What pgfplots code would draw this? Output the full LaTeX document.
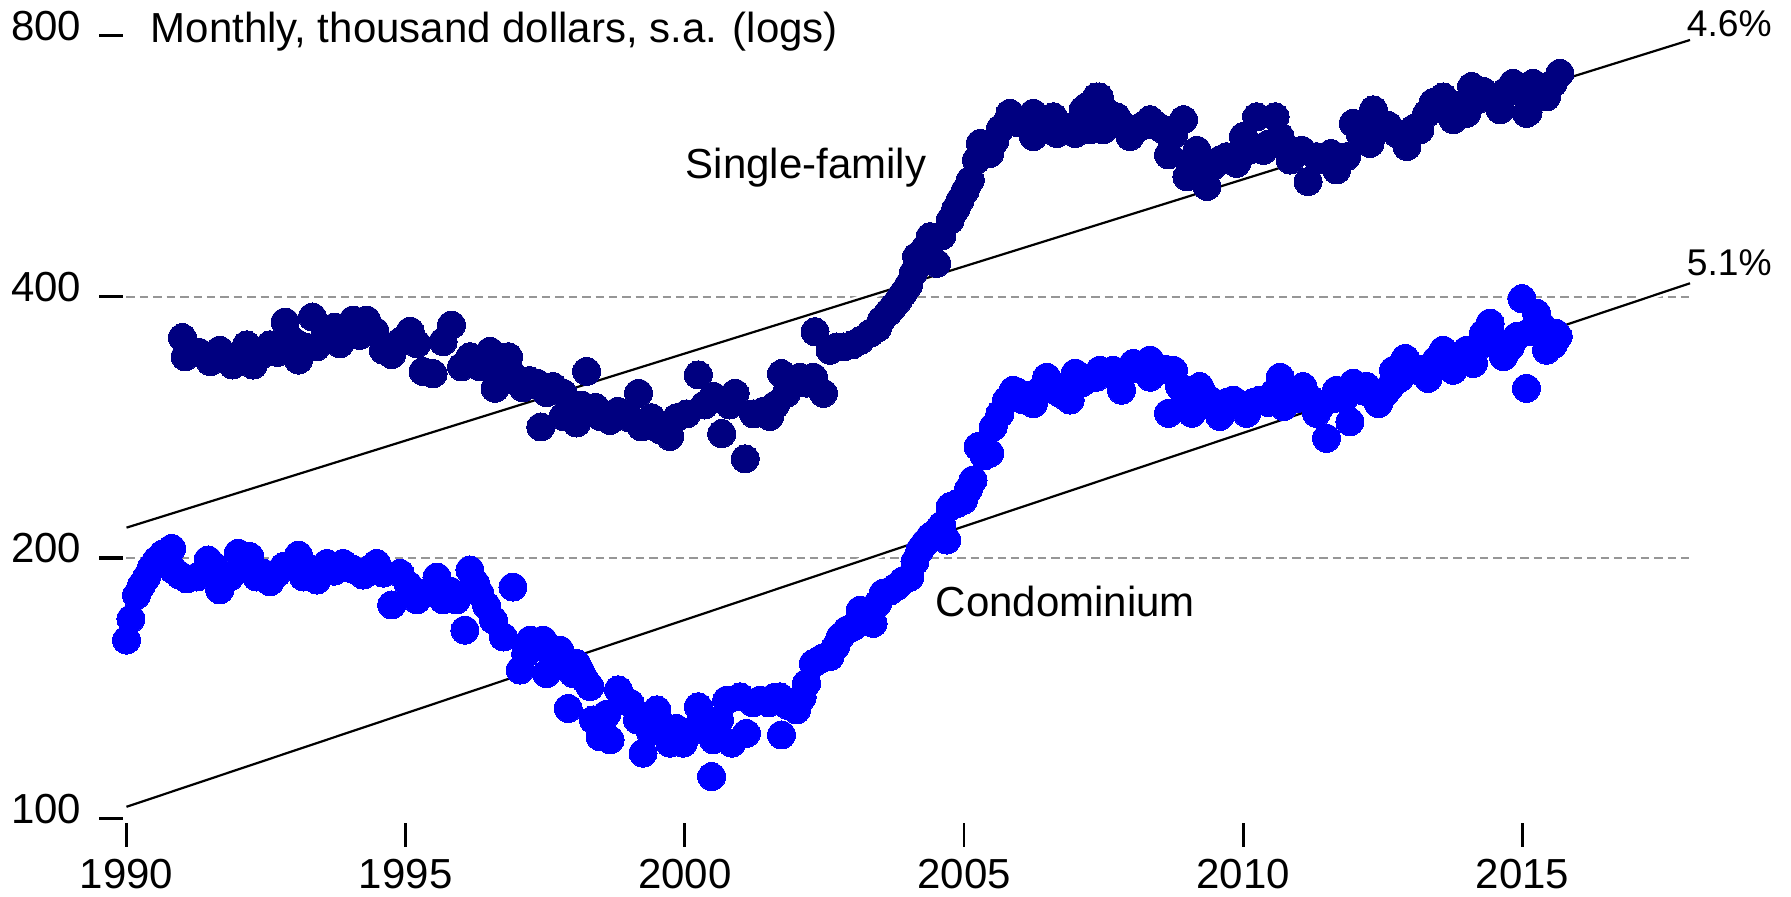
\documentclass[border=0pt]{standalone}
\usepackage{pgfplots}
\pgfplotsset{compat=1.18}
\usepackage{fontspec}
\setmainfont{Liberation Sans}
\definecolor{sfnavy}{RGB}{0,0,128}
\definecolor{condoblue}{RGB}{0,0,255}
\definecolor{gridgray}{RGB}{150,150,150}

\begin{document}
\begin{tikzpicture}[font=\fontsize{10.5}{12.6}\selectfont]
\begin{axis}[
  scale only axis,
  width=390.875pt, height=195.75pt,
  xmin=1990, xmax=2018,
  ymode=log, ymin=100, ymax=800,
  clip=false,
  axis line style={draw=none},
  tick pos=left,
  tick align=outside,
  major tick length=6pt,
  xtick={1990,1995,2000,2005,2010,2015},
  xticklabels={1990,1995,2000,2005,2010,2015},
  ytick={100,200,400,800},
  yticklabels={100,200,400,800},
  minor tick num=0,
  xtick style={draw=black, line width=0.7pt, yshift=-1.075pt},
  ytick style={draw=black, line width=0.9pt, xshift=-0.775pt},
  xticklabel style={anchor=base, inner sep=0pt, yshift=-11.5pt},
  yticklabel style={anchor=base east, inner sep=0pt, xshift=-5.125pt, yshift=-1.25pt},
  /pgf/number format/assume math mode=true,
]
\coordinate (ll) at (axis cs:1990,100);

% dashed reference lines
\draw[gridgray, line width=0.45pt, dash pattern=on 2.1pt off 1.25pt] (axis cs:1990,200) -- (axis cs:2018,200);
\draw[gridgray, line width=0.45pt, dash pattern=on 2.1pt off 1.25pt] (axis cs:1990,400) -- (axis cs:2018,400);

% Single-family
\addplot[sfnavy, only marks, mark=*, mark size=3.5pt, mark options={draw=sfnavy, fill=sfnavy, line width=0pt}] coordinates {
(1991.00,358.7) (1991.05,341) (1991.30,345) (1991.50,336.6) (1991.67,347) (1991.90,333.6)
(1992.15,352) (1992.27,333.6) (1992.40,342) (1992.57,352) (1992.70,345) (1992.84,374)
(1993.00,355) (1993.08,338) (1993.20,350) (1993.33,379) (1993.40,350) (1993.55,360)
(1993.73,369) (1993.82,353) (1994.06,376) (1994.18,361) (1994.30,376) (1994.45,365)
(1994.60,347) (1994.75,343) (1994.90,355) (1995.08,365) (1995.20,353) (1995.31,328)
(1995.49,326) (1995.67,355) (1995.82,371) (1996.00,332) (1996.15,341) (1996.33,332)
(1996.51,346) (1996.60,313.6) (1996.72,335) (1996.84,341) (1996.90,326) (1997.10,314)
(1997.22,320) (1997.35,318) (1997.42,283) (1997.52,310) (1997.64,315) (1997.82,309.5)
(1997.82,291) (1997.95,300) (1998.06,286) (1998.15,300) (1998.24,328) (1998.27,295)
(1998.40,298) (1998.48,291) (1998.66,288) (1998.80,295) (1999.00,290) (1999.17,309.5)
(1999.22,283) (1999.40,290) (1999.55,281) (1999.73,276) (1999.85,290) (2000.03,293)
(2000.24,325) (2000.35,300) (2000.51,307) (2000.66,278) (2000.80,300) (2000.90,309.5)
(2001.08,260) (2001.23,293) (2001.40,295) (2001.52,291) (2001.62,300) (2001.73,326)
(2001.82,309.5) (2001.95,318) (2002.06,323) (2002.18,318) (2002.30,323) (2002.48,309.5)
(2002.33,364.5) (2002.60,347) (2002.72,350) (2002.84,350) (2003.00,352) (2003.14,356)
(2003.32,363) (2003.45,368) (2003.52,376) (2003.65,384) (2003.73,389.5) (2003.82,396)
(2003.91,403.6) (2004.00,412) (2004.09,426) (2004.15,445) (2004.30,455) (2004.39,469)
(2004.51,437) (2004.60,470) (2004.75,490) (2004.85,505) (2004.93,517) (2005.02,530)
(2005.11,545) (2005.22,575) (2005.29,601) (2005.46,585) (2005.55,605) (2005.65,625)
(2005.82,651) (2005.95,635) (2006.10,640) (2006.24,651) (2006.24,612) (2006.40,640)
(2006.50,625) (2006.60,645) (2006.66,617) (2006.78,628) (2006.99,617) (2007.13,657)
(2007.20,663) (2007.26,623) (2007.37,680) (2007.42,680) (2007.49,623) (2007.60,650)
(2007.73,645) (2007.85,630) (2007.97,612) (2008.10,625) (2008.20,630) (2008.33,640)
(2008.45,630) (2008.57,623) (2008.66,583) (2008.75,615) (2008.93,640) (2008.99,550)
(2009.08,575) (2009.17,590) (2009.25,560) (2009.35,536) (2009.45,565) (2009.58,575)
(2009.70,580) (2009.88,570) (2010.00,612) (2010.10,590) (2010.24,645) (2010.36,590)
(2010.45,600) (2010.57,645) (2010.66,612) (2010.75,595) (2010.84,575) (2010.95,585)
(2011.05,590) (2011.16,543) (2011.31,580) (2011.45,575) (2011.57,585) (2011.67,560)
(2011.85,580) (2011.97,634) (2012.10,615) (2012.27,601) (2012.33,657) (2012.45,625)
(2012.60,630) (2012.75,617) (2012.93,596) (2013.05,625) (2013.16,623) (2013.28,650)
(2013.40,670) (2013.50,660) (2013.58,680) (2013.76,640) (2013.88,665) (2014.00,651)
(2014.09,699) (2014.20,675) (2014.30,690) (2014.42,680) (2014.60,657) (2014.70,690)
(2014.83,705) (2014.95,690) (2015.07,651) (2015.10,653) (2015.19,705) (2015.30,695)
(2015.38,684) (2015.43,680) (2015.55,705) (2015.67,724)
};

% Condominium
\addplot[condoblue, only marks, mark=*, mark size=3.5pt, mark options={draw=condoblue, fill=condoblue, line width=0pt}] coordinates {
(1990.00,160.7) (1990.08,170) (1990.18,181) (1990.27,186) (1990.36,190) (1990.45,195)
(1990.54,198.8) (1990.65,202) (1990.81,205) (1990.84,193.6) (1990.95,191) (1991.08,189)
(1991.26,190) (1991.46,198.8) (1991.55,196) (1991.67,183.6) (1991.85,190) (1992.00,202.4)
(1992.10,198) (1992.21,200.6) (1992.33,190) (1992.45,192) (1992.57,187.6) (1992.70,192)
(1992.81,195.3) (1992.95,196) (1993.08,201.4) (1993.17,190) (1993.30,194) (1993.41,188.5)
(1993.59,197) (1993.72,193) (1993.88,197) (1994.05,194) (1994.24,191) (1994.35,194)
(1994.48,197) (1994.60,192) (1994.75,176.4) (1994.90,191.9) (1995.05,186) (1995.20,178.8)
(1995.35,182) (1995.56,190) (1995.67,178.8) (1995.80,183) (1995.91,178.8) (1996.06,165)
(1996.15,193.6) (1996.25,187) (1996.33,182) (1996.45,176) (1996.57,169.5) (1996.75,162)
(1996.92,185) (1997.05,148.4) (1997.15,155) (1997.23,160.7) (1997.35,158) (1997.46,160.7)
(1997.52,147) (1997.65,152) (1997.76,156.5) (1997.91,134) (1998.00,147) (1998.06,151)
(1998.12,148.4) (1998.20,145) (1998.30,142) (1998.36,130) (1998.42,130) (1998.48,124.3)
(1998.60,132) (1998.66,123.3) (1998.81,140.8) (1998.90,137) (1999.02,135.9) (1999.15,130)
(1999.25,119) (1999.38,126) (1999.50,133.5) (1999.62,128) (1999.73,122.2) (1999.85,127)
(1999.97,122.2) (2000.10,126) (2000.24,134.6) (2000.35,128) (2000.48,111.8) (2000.51,123.3)
(2000.62,130) (2000.75,137) (2000.84,122.2) (2000.99,138.2) (2001.10,125.4) (2001.22,136)
(2001.35,137) (2001.50,136) (2001.60,138) (2001.70,138.2) (2001.73,124.9) (2001.85,135)
(2002.00,133.5) (2002.10,138) (2002.18,143.3) (2002.30,151) (2002.45,153) (2002.60,153.8)
(2002.70,158) (2002.78,162) (2002.90,165) (2003.02,166.5) (2003.14,174) (2003.25,172)
(2003.37,168) (2003.45,177) (2003.55,182) (2003.67,183) (2003.79,185.2) (2003.90,188)
(2004.03,190) (2004.12,198) (2004.21,204.2) (2004.30,208) (2004.39,211.4) (2004.50,214)
(2004.60,218) (2004.69,209.6) (2004.75,229) (2004.88,231) (2004.99,233) (2005.08,240)
(2005.16,245.8) (2005.25,268.6) (2005.36,262) (2005.46,264) (2005.52,283) (2005.64,293)
(2005.76,304) (2005.88,312) (2005.97,310) (2006.06,304) (2006.15,308) (2006.24,301)
(2006.36,312) (2006.48,323) (2006.60,315) (2006.70,310) (2006.81,307) (2006.90,304)
(2006.99,326.5) (2007.10,318) (2007.25,322) (2007.37,323) (2007.43,329) (2007.55,327)
(2007.67,329) (2007.82,312) (2007.95,330) (2008.03,335) (2008.15,330) (2008.33,338)
(2008.33,323) (2008.45,328) (2008.60,330) (2008.66,293.5) (2008.75,329) (2008.86,315)
(2008.97,305) (2009.08,293.5) (2009.22,315) (2009.30,308) (2009.40,304) (2009.50,300)
(2009.58,291) (2009.70,302) (2009.82,304) (2009.95,300) (2010.06,293.5) (2010.18,302)
(2010.30,304) (2010.45,302) (2010.55,310) (2010.66,323) (2010.72,298.8) (2010.85,310)
(2010.95,305) (2011.07,315) (2011.20,305) (2011.31,293.5) (2011.40,300) (2011.49,274.6)
(2011.60,305) (2011.67,312) (2011.80,305) (2011.91,287) (2011.97,318) (2012.10,312)
(2012.21,315) (2012.32,308) (2012.42,301) (2012.55,310) (2012.63,315) (2012.69,329)
(2012.80,322) (2012.90,339.6) (2013.00,333) (2013.11,329) (2013.22,330) (2013.31,322)
(2013.45,338) (2013.58,347) (2013.67,342) (2013.76,329) (2013.88,340) (2014.00,347)
(2014.12,335) (2014.20,350) (2014.30,363) (2014.42,373) (2014.55,355) (2014.66,341)
(2014.78,350) (2014.90,360) (2014.99,398) (2015.07,313.6) (2015.15,365) (2015.25,383)
(2015.35,370) (2015.43,347) (2015.55,352) (2015.60,363) (2015.64,360)
};

% Trend lines with white halo
\addplot[white, line width=1.7pt] coordinates {(1990,216.6) (2018,791)};
\addplot[black, line width=0.55pt] coordinates {(1990,216.6) (2018,791)};
\addplot[white, line width=1.7pt] coordinates {(1990,103.2) (2018,414.5)};
\addplot[black, line width=0.55pt] coordinates {(1990,103.2) (2018,414.5)};

% Labels
\node[anchor=base west, inner sep=0pt] at (axis cs:1990.42,786.6) {Monthly, thousand dollars, s.a. (logs)};
\node[anchor=base west, inner sep=0pt] at (axis cs:2000.0,548) {Single-family};
\node[anchor=base west, inner sep=0pt] at (axis cs:2004.48,171.0) {Condominium};
\node[anchor=base west, inner sep=0pt, font=\fontsize{9.3}{11}\selectfont] at (axis cs:2017.93,799) {4.6\%};
\node[anchor=base west, inner sep=0pt, font=\fontsize{9.3}{11}\selectfont] at (axis cs:2017.93,422.6) {5.1\%};
\end{axis}
\pgfresetboundingbox
\path ([shift={(-31.625pt,-19.575pt)}]ll) rectangle ([shift={(416.125pt,204.675pt)}]ll);
\end{tikzpicture}
\end{document}
